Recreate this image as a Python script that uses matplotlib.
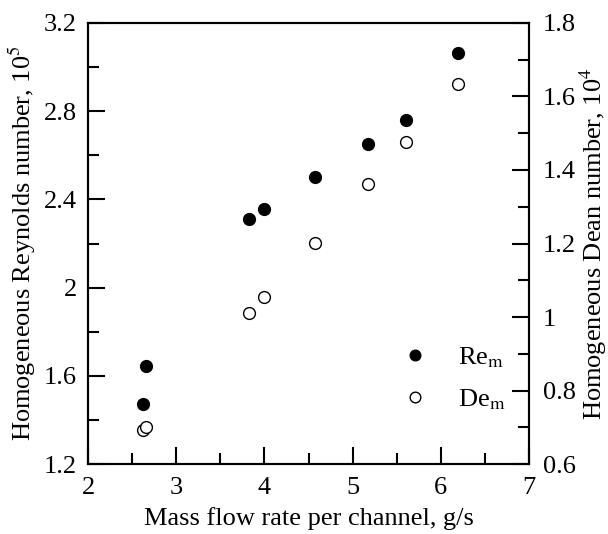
import matplotlib
matplotlib.use("Agg")
import matplotlib.pyplot as plt
from matplotlib.ticker import MultipleLocator, FuncFormatter

# mass flow rate per channel, g/s
flow_re = [2.62, 2.66, 3.82, 3.99, 4.57, 5.17, 5.60, 6.19]
reynolds = [1.474, 1.646, 2.311, 2.356, 2.502, 2.650, 2.760, 3.065]  # x 1e5

flow_de = [2.62, 2.66, 3.82, 3.99, 4.57, 5.17, 5.60, 6.19]
dean = [0.693, 0.702, 1.010, 1.054, 1.202, 1.361, 1.475, 1.634]  # x 1e4

plt.rcParams["font.family"] = ["Liberation Serif", "DejaVu Serif"]
plt.rcParams["mathtext.fontset"] = "stix"

FS = 19

fig = plt.figure(figsize=(6.08, 5.34), dpi=100)
ax = fig.add_axes([0.145, 0.131, 0.725, 0.826])
ax2 = ax.twinx()

h1, = ax.plot(flow_re, reynolds, "o", color="black", markersize=8.5,
              label=r"Re$_{\mathrm{m}}$")
h2, = ax2.plot(flow_de, dean, "o", markerfacecolor="white", markeredgecolor="black",
               markeredgewidth=1.0, markersize=8.5, label=r"De$_{\mathrm{m}}$")

ax.set_xlim(2, 7)
ax.set_ylim(1.2, 3.2)
ax2.set_ylim(0.6, 1.8)

ax.xaxis.set_major_locator(MultipleLocator(1))
ax.xaxis.set_minor_locator(MultipleLocator(0.5))
ax.yaxis.set_major_locator(MultipleLocator(0.4))
ax.yaxis.set_minor_locator(MultipleLocator(0.2))
ax2.yaxis.set_major_locator(MultipleLocator(0.2))
ax2.yaxis.set_minor_locator(MultipleLocator(0.1))

fmt = FuncFormatter(lambda v, p: f"{v:g}")
ax.yaxis.set_major_formatter(fmt)
ax2.yaxis.set_major_formatter(fmt)

for a in (ax, ax2):
    for s in a.spines.values():
        s.set_linewidth(1.5)
ax.tick_params(axis="both", which="major", direction="in", length=12, width=1.5,
               labelsize=FS, top=False, right=False)
ax.tick_params(axis="x", which="major", pad=9)
ax.tick_params(axis="y", which="major", pad=8)
ax.tick_params(axis="both", which="minor", direction="in", length=8, width=1.5,
               top=False, right=False)
ax2.tick_params(axis="y", which="major", direction="in", length=12, width=1.5,
                labelsize=FS, pad=10)
ax2.tick_params(axis="y", which="minor", direction="in", length=8, width=1.5)

ax.set_xlabel("Mass flow rate per channel, g/s", fontsize=FS, labelpad=6)
ax.set_ylabel(r"Homogeneous Reynolds number, 10$^5$", fontsize=FS, labelpad=4)
ax2.set_ylabel(r"Homogeneous Dean number, 10$^4$", fontsize=FS, labelpad=1)

ax2.legend(handles=[h1, h2], frameon=False, fontsize=FS, loc="lower right",
           bbox_to_anchor=(1.0, 0.064), markerscale=0.9, handletextpad=0.6,
           labelspacing=0.65)

fig.savefig("out.png", dpi=100)
